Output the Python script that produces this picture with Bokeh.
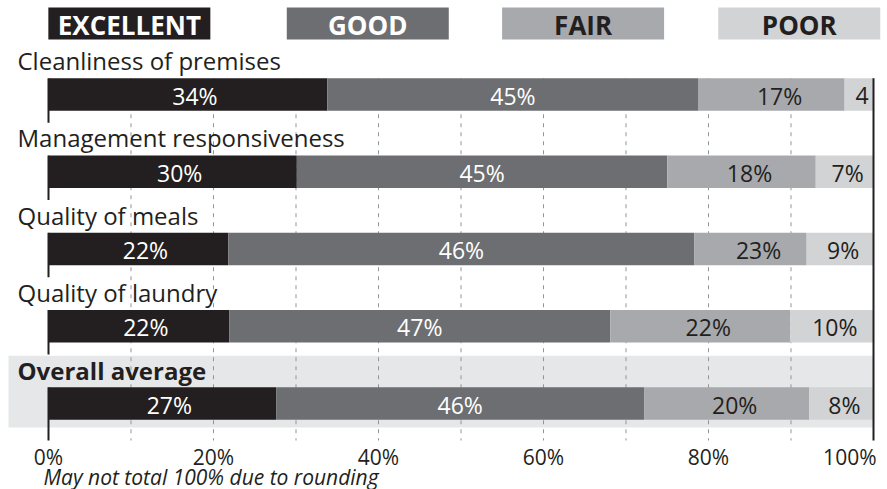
from bokeh.plotting import figure
from bokeh.models import Range1d
from bokeh.core.properties import value
from bokeh.embed import file_html
from bokeh.resources import INLINE

# ---------------- data ----------------
categories = ["Cleanliness of premises", "Management responsiveness",
              "Quality of meals", "Quality of laundry", "Overall average"]
series = ["EXCELLENT", "GOOD", "FAIR", "POOR"]
excellent = [33.8, 30.1, 21.8, 21.9, 27.6]
good = [45.0, 44.9, 56.5, 46.2, 44.6]
fair = [17.7, 18.0, 13.6, 21.8, 20.0]
poor = [3.5, 7.0, 8.1, 10.1, 7.8]
excellent_labels = ["34%", "30%", "22%", "22%", "27%"]
good_labels = ["45%", "45%", "46%", "47%", "46%"]
fair_labels = ["17%", "18%", "23%", "22%", "20%"]
poor_labels = ["4", "7%", "9%", "10%", "8%"]
ticks = [0, 20, 40, 60, 80, 100]
tick_labels = ["0%", "20%", "40%", "60%", "80%", "100%"]
grid_values = [10, 20, 30, 40, 50, 60, 70, 80, 90]
footnote = "May not total 100% due to rounding"

# ---------------- style / layout ----------------
colors = ["#231f20", "#6d6e71", "#a7a9ac", "#d1d3d4"]
label_colors = ["#ffffff", "#ffffff", "#231f20", "#231f20"]
label_dx = [7, 0, 8, 3]
DARK = "#231f20"
FONT = value("Open Sans")
W, H = 887, 489
X0 = 48.0      # canvas px of 0%
PPU = 8.25     # px per percent
ROW0 = 94.0
PITCH = 77.25
BAR_H = 32.5
AXIS_BOTTOM = 440.0
legend_centers = [9.8, 38.7, 64.8, 91.0]
legend_w = 162 / PPU

p = figure(width=W, height=H, output_backend="svg", toolbar_location=None,
           x_range=Range1d(-X0 / PPU, (W - X0) / PPU),
           y_range=Range1d(H, 0), min_border=0)
p.axis.visible = False
p.grid.visible = False
p.outline_line_color = None
p.background_fill_color = "white"

n = len(categories)
ys = [ROW0 + PITCH * i for i in range(n)]
xmin = (8 - X0) / PPU

# overall average background band
last = ys[-1]
p.quad(left=[xmin], right=[100], top=[last - 47.8], bottom=[last + 23.9],
       fill_color="#e6e7e8", line_color=None)

# dashed gridlines
p.segment(x0=grid_values, x1=grid_values,
          y0=[ys[0] - BAR_H / 2] * len(grid_values),
          y1=[AXIS_BOTTOM] * len(grid_values),
          line_color="#939598", line_width=1, line_dash="4 5")

# stacked bars
data = [excellent, good, fair, poor]
labels = [excellent_labels, good_labels, fair_labels, poor_labels]
lefts = [0.0] * n
for k in range(4):
    rights = [l + v for l, v in zip(lefts, data[k])]
    p.hbar(y=ys, left=lefts, right=rights, height=BAR_H,
           fill_color=colors[k], line_color=None)
    mids = [(l + r) / 2 for l, r in zip(lefts, rights)]
    p.text(x=mids, y=[y + 1 for y in ys], text=labels[k], text_font=FONT,
           text_font_size="23px", text_color=label_colors[k],
           text_align="center", text_baseline="middle", x_offset=label_dx[k])
    lefts = rights

# 0% axis segments (per row) and 100% line
y0s = [y - BAR_H / 2 for y in ys]
y1s = [y + BAR_H / 2 + 12 for y in ys[:-1]] + [AXIS_BOTTOM]
p.segment(x0=[0] * n, x1=[0] * n, y0=y0s, y1=y1s, line_color=DARK, line_width=2)
p.segment(x0=[100], x1=[100], y0=[ys[0] - BAR_H / 2], y1=[AXIS_BOTTOM],
          line_color=DARK, line_width=2)

# category labels
cat_x = [(17 - X0) / PPU] * n
p.text(x=cat_x[:-1], y=[y - 34 for y in ys[:-1]], text=categories[:-1],
       text_font=FONT, text_font_size="24px", text_color=DARK,
       text_align="left", text_baseline="middle")
p.text(x=cat_x[-1:], y=[ys[-1] - 33], text=categories[-1:],
       text_font=FONT, text_font_size="24px", text_color=DARK,
       text_font_style="bold", text_align="left", text_baseline="middle")

# tick labels (last one right-aligned to stay inside the page)
p.text(x=ticks[:-1], y=[456] * (len(ticks) - 1), text=tick_labels[:-1],
       text_font=FONT, text_font_size="21px", text_color=DARK,
       text_align="center", text_baseline="middle")
p.text(x=ticks[-1:], y=[456], text=tick_labels[-1:], text_font=FONT,
       text_font_size="21px", text_color=DARK, text_align="right",
       text_baseline="middle", x_offset=3)

# footnote
p.text(x=[(43 - X0) / PPU], y=[476], text=[footnote], text_font=FONT,
       text_font_size="21px", text_font_style="italic", text_color=DARK,
       text_align="left", text_baseline="middle")

# legend
p.rect(x=legend_centers, y=[23] * 4, width=legend_w, height=32,
       fill_color=colors, line_color=None)
p.text(x=legend_centers, y=[24] * 4, text=series, text_font=FONT,
       text_font_size="26px", text_font_style="bold", text_color=label_colors,
       text_align="center", text_baseline="middle")

open("out.html", "w").write(file_html(p, INLINE))
